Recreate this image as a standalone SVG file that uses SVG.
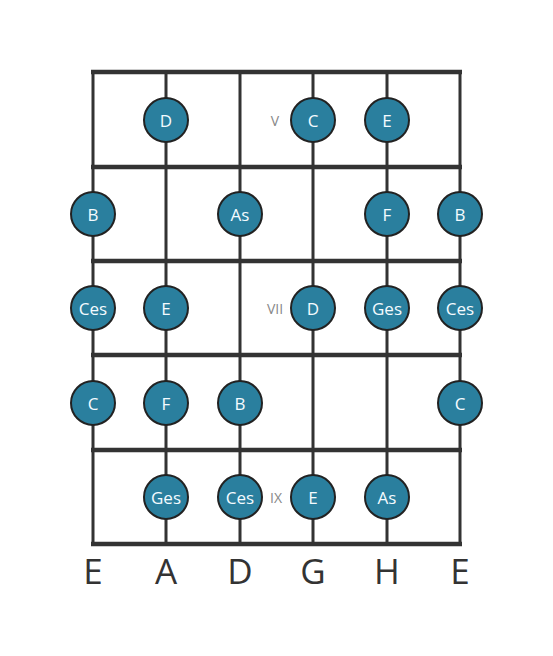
<svg xmlns="http://www.w3.org/2000/svg" width="553" height="656" viewBox="0 0 553 656">
<style>
.fret{stroke:#333;stroke-width:4.5;fill:none}
.str{stroke:#333;stroke-width:3;fill:none}
.dot circle{fill:#2a7f9e;stroke:#222;stroke-width:2}
.dot text{fill:#f4fbff;font-family:"Open Sans",sans-serif;font-size:17px;text-anchor:middle;dominant-baseline:central}
.pos{fill:#888;font-family:"Open Sans",sans-serif;font-size:14px;text-anchor:middle;dominant-baseline:central}
.sn{fill:#333;font-family:"Open Sans",sans-serif;font-size:35px;text-anchor:middle}
</style>
<rect width="553" height="656" fill="#fff"/>
<g id="connectors">
<line class="str" x1="93" y1="72" x2="93" y2="544"/>
<line class="str" x1="166" y1="72" x2="166" y2="544"/>
<line class="str" x1="240" y1="72" x2="240" y2="544"/>
<line class="str" x1="313" y1="72" x2="313" y2="544"/>
<line class="str" x1="387" y1="72" x2="387" y2="544"/>
<line class="str" x1="460" y1="72" x2="460" y2="544"/>
<line class="fret" x1="91" y1="72" x2="462" y2="72"/>
<line class="fret" x1="91" y1="167" x2="462" y2="167"/>
<line class="fret" x1="91" y1="261" x2="462" y2="261"/>
<line class="fret" x1="91" y1="355" x2="462" y2="355"/>
<line class="fret" x1="91" y1="450" x2="462" y2="450"/>
<line class="fret" x1="91" y1="544" x2="462" y2="544"/>
</g>
<g id="positions">
<text class="pos" x="275" y="120">V</text>
<text class="pos" x="275" y="308">VII</text>
<text class="pos" x="276" y="497">IX</text>
</g>
<g id="r1">
<g class="dot" id="n-D1"><circle cx="166" cy="120" r="22"/><text x="166" y="120">D</text></g>
<g class="dot" id="n-C1"><circle cx="313" cy="120" r="22"/><text x="313" y="120">C</text></g>
<g class="dot" id="n-E1"><circle cx="387" cy="120" r="22"/><text x="387" y="120">E</text></g>
</g>
<g id="r2">
<g class="dot" id="n-B1"><circle cx="93" cy="214" r="22"/><text x="93" y="214">B</text></g>
<g class="dot" id="n-As1"><circle cx="240" cy="214" r="22"/><text x="240" y="214">As</text></g>
<g class="dot" id="n-F1"><circle cx="387" cy="214" r="22"/><text x="387" y="214">F</text></g>
<g class="dot" id="n-B2"><circle cx="460" cy="214" r="22"/><text x="460" y="214">B</text></g>
</g>
<g id="r3">
<g class="dot" id="n-Ces1"><circle cx="93" cy="308" r="22"/><text x="93" y="308">Ces</text></g>
<g class="dot" id="n-E2"><circle cx="166" cy="308" r="22"/><text x="166" y="308">E</text></g>
<g class="dot" id="n-D2"><circle cx="313" cy="308" r="22"/><text x="313" y="308">D</text></g>
<g class="dot" id="n-Ges1"><circle cx="387" cy="308" r="22"/><text x="387" y="308">Ges</text></g>
<g class="dot" id="n-Ces2"><circle cx="460" cy="308" r="22"/><text x="460" y="308">Ces</text></g>
</g>
<g id="r4">
<g class="dot" id="n-C2"><circle cx="93" cy="403" r="22"/><text x="93" y="403">C</text></g>
<g class="dot" id="n-F2"><circle cx="166" cy="403" r="22"/><text x="166" y="403">F</text></g>
<g class="dot" id="n-B3"><circle cx="240" cy="403" r="22"/><text x="240" y="403">B</text></g>
<g class="dot" id="n-C3"><circle cx="460" cy="403" r="22"/><text x="460" y="403">C</text></g>
</g>
<g id="r5">
<g class="dot" id="n-Ges2"><circle cx="166" cy="497" r="22"/><text x="166" y="497">Ges</text></g>
<g class="dot" id="n-Ces3"><circle cx="240" cy="497" r="22"/><text x="240" y="497">Ces</text></g>
<g class="dot" id="n-E3"><circle cx="313" cy="497" r="22"/><text x="313" y="497">E</text></g>
<g class="dot" id="n-As2"><circle cx="387" cy="497" r="22"/><text x="387" y="497">As</text></g>
</g>
<g id="strings">
<text class="sn" x="93" y="584">E</text>
<text class="sn" x="166" y="584">A</text>
<text class="sn" x="240" y="584">D</text>
<text class="sn" x="313" y="584">G</text>
<text class="sn" x="387" y="584">H</text>
<text class="sn" x="460" y="584">E</text>
</g>
</svg>
